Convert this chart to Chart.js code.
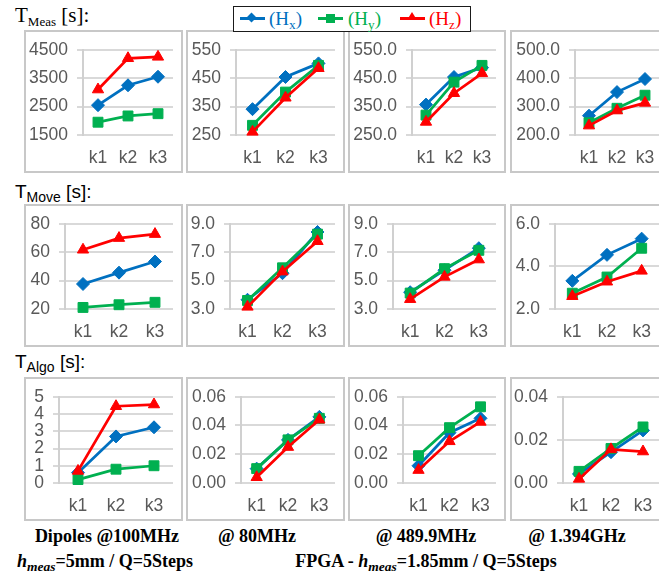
<!DOCTYPE html>
<html><head><meta charset="utf-8">
<script src="https://cdn.jsdelivr.net/npm/chart.js@4.4.1/dist/chart.umd.min.js"></script>
<style>
html,body{margin:0;padding:0}
body{width:659px;height:575px;overflow:hidden;background:#fff;position:relative;font-family:"Liberation Sans",Arial,sans-serif}
.panel{position:absolute;box-sizing:border-box;border:2px solid #c8c8c8;overflow:hidden;background:#fff}
.panel canvas{position:absolute;left:0;top:0}
.ttl{position:absolute;white-space:nowrap;line-height:1;color:#000}
.ttl sub{vertical-align:-0.28em;line-height:0}
.bot{position:absolute;white-space:nowrap;font-family:"Liberation Serif","Times New Roman",serif;font-weight:bold;font-size:18px;line-height:1;text-align:center;color:#000}
.bot i sub{font-size:0.75em;vertical-align:-0.3em;line-height:0}
#legend{position:absolute;left:233px;top:6px;width:238px;height:26px;border:1.5px solid #1a1a1a;box-sizing:border-box;background:#fff;z-index:5}
.lg-line{position:absolute;height:3px;width:25px;top:10px}
.lg-txt{position:absolute;top:2px;font-family:"Liberation Serif","Times New Roman",serif;font-size:19px;line-height:1;white-space:nowrap}
.lg-txt sub{font-size:0.7em;vertical-align:-0.3em;line-height:0}
.mk{position:absolute}
</style>
</head><body>

<div class="ttl" style="left:15px;top:5px;font-size:21px;font-family:'Liberation Serif','Times New Roman',serif">T<sub style="font-size:13px">Meas</sub> [s]:</div>
<div class="ttl" style="left:15px;top:182px;font-size:19px;font-family:'Liberation Sans',Arial,sans-serif">T<sub style="font-size:14px">Move</sub> [s]:</div>
<div class="ttl" style="left:15px;top:352px;font-size:19px;font-family:'Liberation Sans',Arial,sans-serif">T<sub style="font-size:14px">Algo</sub> [s]:</div>

<div id="legend">
  <div class="lg-line" style="left:6px;background:#0070C0"></div>
  <div class="mk" style="left:14px;top:7px;width:7px;height:7px;background:#0070C0;transform:rotate(45deg)"></div>
  <div class="lg-txt" style="left:35px;color:#0070C0">(H<sub>x</sub>)</div>
  <div class="lg-line" style="left:84px;background:#00B050"></div>
  <div class="mk" style="left:92px;top:7px;width:9px;height:9px;background:#00B050"></div>
  <div class="lg-txt" style="left:114px;color:#00B050">(H<sub>y</sub>)</div>
  <div class="lg-line" style="left:166px;background:#FF0000"></div>
  <div class="mk" style="left:173px;top:5px;width:0;height:0;border-left:5px solid transparent;border-right:5px solid transparent;border-bottom:8px solid #FF0000"></div>
  <div class="lg-txt" style="left:195px;color:#FF0000">(H<sub>z</sub>)</div>
</div>

<div class="bot" style="left:17px;width:180px;top:527px">Dipoles @100MHz</div>
<div class="bot" style="left:197px;width:120px;top:527px">@ 80MHz</div>
<div class="bot" style="left:356px;width:140px;top:527px">@ 489.9MHz</div>
<div class="bot" style="left:507px;width:140px;top:527px">@ 1.394GHz</div>
<div class="bot" style="left:5px;width:200px;top:552px"><i>h<sub>meas</sub></i>=5mm / Q=5Steps</div>
<div class="bot" style="left:276px;width:300px;top:552px">FPGA - <i>h<sub>meas</sub></i>=1.85mm / Q=5Steps</div>

<div id="grid"></div>

<script>
// ---------- DATA ----------
const categories = ['k1', 'k2', 'k3'];
const seriesNames = ['(Hx)', '(Hy)', '(Hz)'];
const columnNames = ['Dipoles @100MHz', '@ 80MHz', '@ 489.9MHz', '@ 1.394GHz'];

// T_Meas [s]
const meas100_Hx = [2550, 3250, 3550];
const meas100_Hy = [1950, 2170, 2250];
const meas100_Hz = [3100, 4200, 4250];
const meas80_Hx = [341, 454, 502];
const meas80_Hy = [284, 401, 495];
const meas80_Hz = [261, 381, 485];
const meas490_Hx = [357, 454, 487];
const meas490_Hy = [320, 436, 495];
const meas490_Hz = [296, 397, 467];
const meas1394_Hx = [268, 351, 397];
const meas1394_Hy = [243, 294, 340];
const meas1394_Hz = [233, 286, 313];

// T_Move [s]
const move100_Hx = [37.6, 45.6, 53.4];
const move100_Hy = [21.1, 23.0, 24.7];
const move100_Hz = [61.7, 69.9, 72.7];
const move80_Hx = [3.65, 5.52, 8.42];
const move80_Hy = [3.6, 5.9, 8.27];
const move80_Hz = [3.15, 5.63, 7.77];
const move490_Hx = [4.18, 5.73, 7.28];
const move490_Hy = [4.12, 5.84, 7.13];
const move490_Hz = [3.69, 5.26, 6.48];
const move1394_Hx = [3.32, 4.54, 5.30];
const move1394_Hy = [2.74, 3.50, 4.85];
const move1394_Hz = [2.60, 3.28, 3.79];

// T_Algo [s]
const algo100_Hx = [0.6, 2.7, 3.23];
const algo100_Hy = [0.2, 0.8, 1.0];
const algo100_Hz = [0.7, 4.45, 4.55];
const algo80_Hx = [0.010, 0.030, 0.046];
const algo80_Hy = [0.010, 0.030, 0.045];
const algo80_Hz = [0.004, 0.025, 0.044];
const algo490_Hx = [0.012, 0.035, 0.045];
const algo490_Hy = [0.019, 0.0385, 0.053];
const algo490_Hz = [0.009, 0.029, 0.0425];
const algo1394_Hx = [0.0042, 0.0143, 0.0244];
const algo1394_Hy = [0.0054, 0.016, 0.026];
const algo1394_Hz = [0.0019, 0.0156, 0.0146];

// y axis tick ranges: [min, max, step, decimals]
const measTicks = [[1500, 4500, 1000, 0], [250, 550, 100, 0], [250, 550, 100, 1], [200, 500, 100, 1]];
const moveTicks = [[20, 80, 20, 0], [3, 9, 2, 1], [3, 9, 2, 1], [2, 6, 2, 1]];
const algoTicks = [[0, 5, 1, 0], [0, 0.06, 0.02, 2], [0, 0.06, 0.02, 2], [0, 0.04, 0.02, 2]];

const rows = [
  {ticks: measTicks, data: [[meas100_Hx, meas100_Hy, meas100_Hz], [meas80_Hx, meas80_Hy, meas80_Hz], [meas490_Hx, meas490_Hy, meas490_Hz], [meas1394_Hx, meas1394_Hy, meas1394_Hz]]},
  {ticks: moveTicks, data: [[move100_Hx, move100_Hy, move100_Hz], [move80_Hx, move80_Hy, move80_Hz], [move490_Hx, move490_Hy, move490_Hz], [move1394_Hx, move1394_Hy, move1394_Hz]]},
  {ticks: algoTicks, data: [[algo100_Hx, algo100_Hy, algo100_Hz], [algo80_Hx, algo80_Hy, algo80_Hz], [algo490_Hx, algo490_Hy, algo490_Hz], [algo1394_Hx, algo1394_Hy, algo1394_Hz]]}
];

// ---------- LAYOUT / STYLE ----------
const colX = [24, 186, 348, 510];
const colW = [159, 159, 158, 159];
const rowY = [30, 204, 377];
const rowH = [143, 143, 144];
const axisX = [[83, 236, 412, 575], [65, 230, 393, 555], [59, 241, 403, 563]];
const plotTop = [42, 216, 388.5];
const plotBottom = [135, 309, 483];
const colors = ['#0070C0', '#00B050', '#FF0000'];
const styles = ['rectRot', 'rect', 'triangle'];
const radii = [6.5, 7, 6.5];
const B = 2;

const grid = document.getElementById('grid');
rows.forEach((row, r) => {
  for (let c = 0; c < 4; c++) {
    const div = document.createElement('div');
    div.className = 'panel';
    div.style.left = colX[c] + 'px';
    div.style.top = rowY[r] + 'px';
    div.style.width = colW[c] + 'px';
    div.style.height = rowH[r] + 'px';
    const cw = colW[c] - 2 * B, ch = rowH[r] - 2 * B;
    const cv = document.createElement('canvas');
    cv.width = cw; cv.height = ch;
    cv.style.width = cw + 'px'; cv.style.height = ch + 'px';
    div.appendChild(cv);
    grid.appendChild(div);

    const innerLeft = colX[c] + B, innerTop = rowY[r] + B, innerBottom = rowY[r] + rowH[r] - B;
    const yW = axisX[r][c] - innerLeft;
    const xH = innerBottom - plotBottom[r];
    const [mn, mx, st, dec] = row.ticks[c];

    new Chart(cv, {
      type: 'line',
      data: {
        labels: categories,
        datasets: row.data[c].map((d, i) => ({
          label: seriesNames[i],
          data: d,
          borderColor: colors[i],
          backgroundColor: colors[i],
          pointBackgroundColor: colors[i],
          pointBorderColor: colors[i],
          pointBorderWidth: 1,
          pointStyle: styles[i],
          pointRadius: radii[i],
          borderWidth: 2.75,
          tension: 0,
          order: 2 - i,
          clip: false
        }))
      },
      options: {
        responsive: false,
        animation: false,
        devicePixelRatio: 1,
        layout: {padding: {top: plotTop[r] - innerTop, left: 0, right: 0, bottom: 0}},
        plugins: {legend: {display: false}, tooltip: {enabled: false}},
        scales: {
          x: {
            type: 'category',
            offset: true,
            grid: {display: false, drawTicks: true, tickLength: 11},
            border: {display: false},
            ticks: {padding: 2, color: '#595959', maxRotation: 0, autoSkip: false,
                    font: {family: '"Liberation Sans", Arial, sans-serif', size: 17.5}},
            afterFit: s => { s.height = xH; }
          },
          y: {
            min: mn, max: mx,
            grid: {color: '#d9d9d9', lineWidth: 2, drawTicks: true, tickLength: 6},
            border: {display: true, color: '#d0d0d0', width: 2},
            ticks: {stepSize: st, padding: 9, color: '#595959', autoSkip: false,
                    font: {family: '"Liberation Sans", Arial, sans-serif', size: 17.5, lineHeight: 1},
                    callback: v => Number(v).toFixed(dec)},
            afterFit: s => { s.width = yW; }
          }
        }
      }
    });
  }
});
</script>
</body></html>
